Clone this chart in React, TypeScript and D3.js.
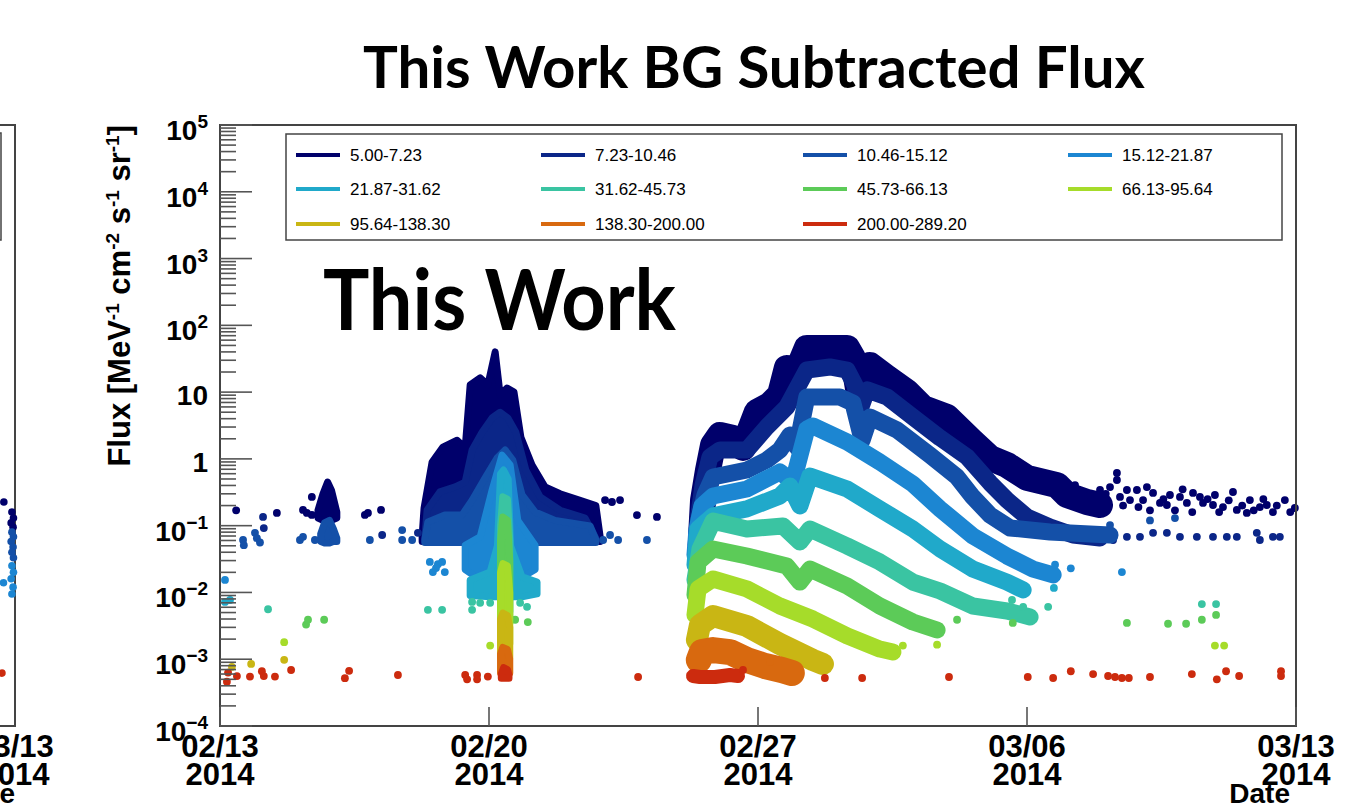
import * as d3 from "d3";

// [days after 02/13 00:00 UTC, flux]
type Pt = [number, number];
// [days, low flux, high flux] for dense clusters of points
type Span = [number, number, number];

const tickDates = ["2014-02-13", "2014-02-20", "2014-02-27", "2014-03-06", "2014-03-13"];
const yDecades = [5, 4, 3, 2, 1, 0, -1, -2, -3, -4];

const binNames = [
  "5.00-7.23", "7.23-10.46", "10.46-15.12", "15.12-21.87",
  "21.87-31.62", "31.62-45.73", "45.73-66.13", "66.13-95.64",
  "95.64-138.30", "138.30-200.00", "200.00-289.20",
];
const binColors = [
  "#00006b", "#0b2688", "#1450a8", "#1c86d2", "#20a9ca", "#3ac4a2",
  "#5ccb58", "#a6dc2a", "#c9b614", "#d8690f", "#cc2b0e",
];

// ---- 5.00-7.23
const spans1: Span[][] = [
  [[2.55, 0.13, 0.17], [2.68, 0.12, 0.3], [2.8, 0.12, 0.45], [2.9, 0.12, 0.34], [3.04, 0.13, 0.16]],
  [[5.26, 0.058, 0.07], [5.31, 0.058, 0.184], [5.52, 0.058, 0.9], [5.8, 0.058, 1.5], [6.17, 0.058, 1.9],
   [6.38, 0.058, 1.46], [6.51, 0.058, 12.8], [6.77, 0.058, 16.3], [6.97, 0.058, 12.8], [7.16, 0.058, 40],
   [7.29, 0.058, 9.1], [7.47, 0.058, 11.5], [7.65, 0.058, 10], [7.83, 0.058, 2.1], [8.12, 0.058, 0.81],
   [8.46, 0.058, 0.38], [8.85, 0.058, 0.3], [9.37, 0.058, 0.24], [9.78, 0.058, 0.2], [9.89, 0.058, 0.07]],
];
const bands1: Pt[][] = [[
  [12.52, 0.0725], [12.57, 0.242], [12.7, 0.682], [12.83, 1.61], [13.01, 2.28], [13.35, 2.06], [13.61, 1.46],
  [13.97, 5.04], [14.31, 6.41], [14.57, 9.05], [14.75, 23], [15.01, 20], [15.27, 45.8], [15.95, 45.8],
  [16.32, 45.8], [16.47, 32.4], [16.6, 11.5], [16.73, 12.3], [16.91, 25.5], [17.36, 16.3], [17.88, 10],
  [18.29, 5.78], [18.92, 4.24], [19.59, 1.79], [20.04, 1.03], [20.48, 0.81], [21.0, 0.518], [21.78, 0.406],
  [22.04, 0.288], [22.56, 0.226], [22.9, 0.204],
]];
const dots1: Pt[] = [
  [0.42, 0.17], [1.48, 0.155], [2.16, 0.172], [2.26, 0.155], [2.39, 0.145], [2.39, 0.269], [3.77, 0.145],
  [3.85, 0.155], [4.19, 0.172], [5.39, 0.172], [10.02, 0.242], [10.2, 0.226], [10.41, 0.242], [10.85, 0.144],
  [11.37, 0.135], [22.25, 0.406], [22.64, 0.288], [22.9, 0.342], [23.05, 0.3], [23.16, 0.379], [23.34, 0.615],
  [23.34, 0.483], [23.42, 0.269], [23.5, 0.2], [23.6, 0.342], [23.68, 0.242], [23.86, 0.342], [23.9, 0.19],
  [24.02, 0.242], [24.12, 0.379], [24.2, 0.17], [24.28, 0.309], [24.46, 0.219], [24.55, 0.25], [24.64, 0.204],
  [24.72, 0.288], [24.85, 0.17], [24.98, 0.269], [25.05, 0.35], [25.16, 0.219], [25.3, 0.16], [25.32, 0.309],
  [25.5, 0.269], [25.58, 0.219], [25.7, 0.25], [25.84, 0.204], [25.89, 0.288], [26.0, 0.16], [26.1, 0.19],
  [26.25, 0.24], [26.36, 0.319], [26.46, 0.172], [26.6, 0.2], [26.72, 0.155], [26.8, 0.242], [26.9, 0.17],
  [27.06, 0.19], [27.15, 0.25], [27.24, 0.204], [27.4, 0.16], [27.5, 0.2], [27.71, 0.242], [27.85, 0.16],
  [27.97, 0.184],
];

// ---- 7.23-10.46
const spans2: Span[][] = [[
  [5.33, 0.058, 0.065], [5.39, 0.058, 0.172], [5.72, 0.058, 0.32], [6.12, 0.058, 0.38], [6.38, 0.058, 0.45],
  [6.56, 0.058, 1.36], [6.82, 0.058, 2.5], [7.08, 0.058, 4.1], [7.29, 0.058, 5.0], [7.49, 0.058, 4.1],
  [7.7, 0.058, 2.5], [7.96, 0.058, 0.68], [8.33, 0.058, 0.27], [8.85, 0.058, 0.17], [9.5, 0.058, 0.13],
  [9.78, 0.058, 0.065],
]];
const bands2: Pt[][] = [[
  [12.39, 0.0513], [12.44, 0.122], [12.57, 0.406], [12.75, 1.07], [13.01, 1.36], [13.71, 1.36], [14.23, 3.0],
  [14.75, 5.99], [15.27, 21.4], [15.87, 23.8], [16.32, 21.4], [16.52, 12.8], [16.65, 5.4], [16.84, 10.8],
  [17.36, 8.45], [18.03, 4.24], [18.74, 2.06], [19.44, 1.07], [20.04, 0.436], [20.48, 0.242], [21.0, 0.135],
  [21.6, 0.0955], [22.2, 0.0725], [22.9, 0.0654],
]];
const dots2: Pt[] = [
  [1.12, 0.135], [1.14, 0.092], [4.22, 0.0725], [5.15, 0.078], [23.24, 0.061], [23.6, 0.068], [23.94, 0.068],
  [24.28, 0.078], [24.64, 0.078], [24.98, 0.068], [25.42, 0.068], [25.84, 0.068], [26.2, 0.068],
  [26.46, 0.068], [26.98, 0.078], [27.06, 0.061], [27.4, 0.068], [27.58, 0.068],
];

// ---- 10.46-15.12
const spans3: Span[][] = [
  [[2.62, 0.058, 0.075], [2.72, 0.055, 0.11], [2.85, 0.055, 0.12], [2.95, 0.058, 0.09], [3.04, 0.058, 0.065]],
  [[5.33, 0.056, 0.062], [5.41, 0.056, 0.114], [5.85, 0.056, 0.145], [6.3, 0.056, 0.145], [6.56, 0.056, 0.24],
   [6.9, 0.056, 0.52], [7.21, 0.056, 1.03], [7.42, 0.056, 1.36], [7.62, 0.056, 0.96], [7.86, 0.056, 0.29],
   [8.2, 0.056, 0.16], [8.72, 0.056, 0.12], [9.63, 0.056, 0.099], [9.78, 0.056, 0.062]],
];
const bands3: Pt[][] = [[
  [12.39, 0.0432], [12.46, 0.122], [12.62, 0.288], [12.83, 0.536], [13.71, 0.682], [14.23, 0.962],
  [14.57, 1.36], [14.83, 2.28], [15.01, 1.51], [15.27, 8.45], [16.13, 8.45], [16.47, 6.87], [16.71, 1.92],
  [16.91, 4.24], [17.62, 2.71], [18.47, 1.14], [19.18, 0.536], [19.59, 0.269], [20.04, 0.144],
  [20.56, 0.0923], [21.6, 0.0804], [22.64, 0.075], [23.16, 0.0725],
]];
const dots3: Pt[] = [
  [0.6, 0.061], [0.62, 0.051], [0.91, 0.078], [0.96, 0.065], [1.04, 0.056], [2.08, 0.061], [2.16, 0.068],
  [2.47, 0.061], [3.9, 0.061], [4.74, 0.086], [4.74, 0.061], [5.0, 0.061], [9.97, 0.061], [10.15, 0.0725],
  [10.36, 0.061], [11.11, 0.061], [23.16, 0.102], [24.2, 0.12], [24.85, 0.13],
];

// ---- 15.12-21.87
const spans4: Span[][] = [[
  [6.38, 0.022, 0.051], [6.77, 0.0155, 0.068], [7.08, 0.013, 0.34], [7.34, 0.013, 1.14], [7.55, 0.013, 0.81],
  [7.75, 0.0155, 0.12], [8.2, 0.022, 0.051],
]];
const bands4: Pt[][] = [[
  [12.36, 0.0364], [12.41, 0.0861], [12.54, 0.197], [12.83, 0.278], [13.71, 0.354], [14.57, 0.637],
  [14.91, 0.451], [15.27, 2.8], [15.43, 3.11], [16.32, 1.79], [17.17, 0.898], [18.03, 0.421], [18.74, 0.178],
  [19.59, 0.07], [20.48, 0.0351], [21.16, 0.0224], [21.68, 0.0183],
]];
const dots4: Pt[] = [
  [0.13, 0.0154], [5.46, 0.0286], [5.54, 0.0202], [5.62, 0.0232], [5.67, 0.0265], [5.78, 0.0286],
  [5.85, 0.0202], [21.73, 0.026], [22.14, 0.023], [23.47, 0.0202],
];

// ---- 21.87-31.62
const spans5: Span[][] = [[
  [6.51, 0.009, 0.0154], [7.03, 0.0086, 0.0202], [7.22, 0.0086, 0.05], [7.3, 0.0086, 0.6], [7.38, 0.0086, 0.68],
  [7.5, 0.0086, 0.5], [7.56, 0.0086, 0.05], [7.86, 0.0086, 0.0171], [8.25, 0.0095, 0.0143],
]];
const bands5: Pt[][] = [[
  [12.36, 0.0258], [12.44, 0.0892], [12.83, 0.14], [13.71, 0.178], [14.57, 0.278], [14.83, 0.393],
  [15.09, 0.197], [15.35, 0.554], [16.32, 0.354], [17.17, 0.178], [18.03, 0.0892], [18.74, 0.0447],
  [19.59, 0.0224], [20.48, 0.0143], [20.9, 0.0109],
]];
const dots5: Pt[] = [[0.13, 0.0072], [0.26, 0.0077], [21.7, 0.0117]];

// ---- 31.62-45.73
const spans6: Span[][] = [[[7.3, 0.0052, 0.1], [7.36, 0.0052, 0.27], [7.48, 0.0052, 0.25], [7.54, 0.0052, 0.06]]];
const bands6: Pt[][] = [[
  [12.36, 0.0154], [12.49, 0.0447], [12.83, 0.117], [13.71, 0.0892], [14.65, 0.0989], [15.09, 0.0569],
  [15.35, 0.0892], [16.32, 0.0496], [17.17, 0.0286], [18.03, 0.0143], [18.74, 0.0105], [19.59, 0.00627],
  [20.48, 0.00528], [21.08, 0.00429],
]];
const dots6: Pt[] = [
  [1.25, 0.0056], [5.41, 0.0055], [5.78, 0.0055], [6.56, 0.0072], [6.56, 0.0055], [6.77, 0.007],
  [7.03, 0.007], [7.81, 0.007], [7.99, 0.0061], [20.61, 0.0077], [20.9, 0.0061], [21.55, 0.0061],
  [25.55, 0.0067], [25.92, 0.0067],
];

// ---- 45.73-66.13
const spans7: Span[][] = [[[7.3, 0.0035, 0.06], [7.36, 0.0035, 0.135], [7.48, 0.0035, 0.12], [7.54, 0.0035, 0.03]]];
const bands7: Pt[][] = [[
  [12.36, 0.00916], [12.44, 0.0286], [12.83, 0.0447], [13.71, 0.0351], [14.75, 0.0249], [15.09, 0.0143],
  [15.35, 0.0224], [16.32, 0.0125], [17.17, 0.00627], [18.03, 0.00361], [18.66, 0.00274],
]];
const dots7: Pt[] = [
  [2.24, 0.0033], [2.29, 0.0039], [2.71, 0.0039], [7.68, 0.0039], [8.01, 0.0036], [19.18, 0.0039],
  [20.63, 0.0035], [23.6, 0.0035], [24.67, 0.0034], [25.14, 0.0034], [25.55, 0.0039], [25.92, 0.0046],
];

// ---- 66.13-95.64
const spans8: Span[][] = [[[7.3, 0.0017, 0.02], [7.36, 0.0017, 0.027], [7.48, 0.0017, 0.025], [7.54, 0.0017, 0.01]]];
const bands8: Pt[][] = [[
  [12.36, 0.0046], [12.44, 0.0113], [12.83, 0.0159], [13.71, 0.0113], [14.57, 0.00627], [15.43, 0.004],
  [16.32, 0.00223], [17.17, 0.00142], [17.51, 0.00128],
]];
const dots8: Pt[] = [[1.67, 0.0018], [7.03, 0.0016], [17.77, 0.0016], [18.66, 0.00165], [25.89, 0.0016], [26.13, 0.0016]];

// ---- 95.64-138.30
const spans9: Span[][] = [[[7.3, 0.00104, 0.004], [7.36, 0.00104, 0.0049], [7.48, 0.00104, 0.0045], [7.54, 0.00104, 0.003]]];
const bands9: Pt[][] = [[
  [12.41, 0.00194], [12.49, 0.00326], [12.83, 0.00444], [13.71, 0.00314], [14.57, 0.00169],
  [15.43, 0.000974], [15.69, 0.000848],
]];
const dots9: Pt[] = [[0.31, 0.00077], [0.81, 0.00085], [1.67, 0.00098]];

// ---- 138.30-200.00
const spans10: Span[][] = [[[7.3, 0.00062, 0.0012], [7.36, 0.00062, 0.0015], [7.48, 0.00062, 0.0014], [7.54, 0.00062, 0.001]]];
const bands10: Pt[][] = [[
  [12.46, 0.000974], [12.54, 0.00128], [12.83, 0.00137], [13.27, 0.00128], [13.71, 0.000974],
  [14.18, 0.000792], [14.62, 0.00069], [14.88, 0.000622],
]];
const dots10: Pt[] = [[14.31, 0.00091]];

// ---- 200.00-289.20
const spans11: Span[][] = [[[7.32, 0.00052, 0.0006], [7.38, 0.00052, 0.00075], [7.48, 0.00052, 0.0007], [7.52, 0.00052, 0.00058]]];
const bands11: Pt[][] = [[[12.31, 0.000561], [12.49, 0.000542], [12.88, 0.000542], [13.27, 0.00058], [13.48, 0.000561]]];
const dots11: Pt[] = [
  [0.21, 0.00063], [0.18, 0.00046], [0.44, 0.00056], [0.78, 0.00055], [1.09, 0.00066], [1.14, 0.00056],
  [1.43, 0.00055], [1.85, 0.00069], [3.25, 0.00052], [3.36, 0.00067], [4.63, 0.00058], [6.38, 0.00058],
  [6.43, 0.0005], [6.69, 0.00058], [6.69, 0.0005], [6.97, 0.00055], [10.88, 0.000542], [13.61, 0.00069],
  [15.74, 0.000523], [16.71, 0.000523], [18.97, 0.000542], [21.02, 0.000542], [21.68, 0.000523],
  [22.14, 0.00066], [22.72, 0.0006], [23.11, 0.000561], [23.29, 0.000542], [23.47, 0.000523],
  [23.65, 0.000523], [24.2, 0.000542], [25.29, 0.0006], [25.94, 0.0005], [26.18, 0.00066],
  [26.52, 0.000561], [27.61, 0.00066], [27.61, 0.000561],
];

// right end of the neighbouring panel (cut off at the left border)
const leftNavy: Pt[] = [[27.71, 0.226], [27.92, 0.16], [27.96, 0.13], [27.9, 0.11], [27.95, 0.095]];
const leftBlue: Pt[] = [[27.92, 0.08], [27.96, 0.068], [27.9, 0.058], [27.95, 0.048], [27.92, 0.04], [27.96, 0.033]];
const leftLight: Pt[] = [[27.7, 0.014], [27.92, 0.025], [27.96, 0.02], [27.9, 0.016], [27.95, 0.012], [27.92, 0.0095]];
const leftRed: Pt[] = [[27.66, 0.00062]];

const spanSets = [spans1, spans2, spans3, spans4, spans5, spans6, spans7, spans8, spans9, spans10, spans11];
const bandSets = [bands1, bands2, bands3, bands4, bands5, bands6, bands7, bands8, bands9, bands10, bands11];
const dotSets = [dots1, dots2, dots3, dots4, dots5, dots6, dots7, dots8, dots9, dots10, dots11];

const bandWidths = [26, 17, 17, 17, 17, 17, 17, 17, 22, 26, 14];
const AX = "Liberation Sans, Arial, Helvetica, sans-serif";
const sup = (s: string) => s.replace("-", "\u2212");

export default function App() {
  const t0 = new Date(tickDates[0]).getTime();
  const day = (d: number) => new Date(t0 + d * 86400000);
  const x = d3.scaleUtc()
    .domain([new Date(tickDates[0]), new Date(tickDates[tickDates.length - 1])])
    .range([220, 1296]);
  const xLeft = d3.scaleUtc().domain(x.domain()).range([15 - 1076, 15]);
  const y = d3.scaleLog().domain([1e-4, 1e5]).range([726, 125]);

  const area = d3.area<Span>().x(d => x(day(d[0]))).y0(d => y(d[1])).y1(d => y(d[2]));
  const line = d3.line<Pt>().x(d => x(day(d[0]))).y(d => y(d[1]));

  const minor: number[] = [];
  yDecades.slice(1).forEach(k => {
    for (let m = 2; m <= 9; m++) minor.push(m * Math.pow(10, k));
  });
  const fmtMD = d3.utcFormat("%m/%d");
  const fmtY = d3.utcFormat("%Y");

  const leftSets: [Pt[], string][] = [
    [leftNavy, binColors[0]], [leftBlue, binColors[2]], [leftLight, binColors[3]], [leftRed, binColors[10]],
  ];

  return (
    <svg width={1353} height={805} style={{ position: "absolute", left: 0, top: 0, background: "#fff" }}>
      <rect width={1353} height={805} fill="#fff" />

      {/* neighbouring panel remnants */}
      <path d="M0,125H15V726H0" fill="none" stroke="#444" strokeWidth={2} />
      <path d="M0,133H1V240H0" fill="none" stroke="#444" strokeWidth={1.5} />
      {leftSets.map(([pts, c], i) =>
        pts.map((p, j) => <circle key={`l${i}-${j}`} cx={xLeft(day(p[0]))} cy={y(p[1])} r={3.8} fill={c} />)
      )}
      <g fontFamily={AX} fontWeight="bold" fontSize={31} textAnchor="middle">
        <text x={15} y={757}>03/13</text>
        <text x={15} y={785}>2014</text>
      </g>
      <text x={15} y={803} fontFamily={AX} fontWeight="bold" fontSize={28} textAnchor="end">Date</text>

      {/* title */}
      <text x={754} y={88} textAnchor="middle" fontFamily="Lato, Open Sans, sans-serif" fontWeight={700}
        fontSize={58} textLength={782} lengthAdjust="spacingAndGlyphs">This Work BG Subtracted Flux</text>

      {/* data */}
      {binNames.map((name, i) => (
        <g key={name}>
          {spanSets[i].map((s, j) => (
            <path key={`a${j}`} d={area(s) ?? ""} fill={binColors[i]} stroke={binColors[i]}
              strokeWidth={7} strokeLinejoin="round" />
          ))}
          {bandSets[i].map((b, j) => (
            <path key={`b${j}`} d={line(b) ?? ""} fill="none" stroke={binColors[i]}
              strokeWidth={bandWidths[i]} strokeLinejoin="round" strokeLinecap="round" />
          ))}
          {dotSets[i].map((p, j) => (
            <circle key={`d${j}`} cx={x(day(p[0]))} cy={y(p[1])} r={3.9} fill={binColors[i]} />
          ))}
        </g>
      ))}

      {/* frame and axes */}
      <rect x={220} y={125} width={1076} height={601} fill="none" stroke="#444" strokeWidth={2} />
      {yDecades.map(k => (
        <line key={`M${k}`} x1={220} x2={252} y1={y(Math.pow(10, k))} y2={y(Math.pow(10, k))} stroke="#555" strokeWidth={1.6} />
      ))}
      {minor.map(v => (
        <line key={`m${v}`} x1={220} x2={236} y1={y(v)} y2={y(v)} stroke="#555" strokeWidth={1.6} />
      ))}
      {tickDates.map(t => (
        <line key={`xt${t}`} x1={x(new Date(t))} x2={x(new Date(t))} y1={726} y2={707} stroke="#555" strokeWidth={1.6} />
      ))}

      <g fontFamily={AX} fontWeight="bold" fill="#000">
        {yDecades.map(k => {
          const yy = y(Math.pow(10, k));
          if (k === 1 || k === 0)
            return <text key={`yl${k}`} x={208} y={yy + 13} textAnchor="end" fontSize={28}>{k === 1 ? "10" : "1"}</text>;
          return (
            <text key={`yl${k}`} x={208} y={yy + 15} textAnchor="end" fontSize={28}>
              10<tspan dy={-12} fontSize={19}>{sup(String(k))}</tspan>
            </text>
          );
        })}
        {tickDates.map(t => (
          <g key={`xl${t}`} textAnchor="middle" fontSize={31}>
            <text x={x(new Date(t))} y={757}>{fmtMD(new Date(t))}</text>
            <text x={x(new Date(t))} y={785}>{fmtY(new Date(t))}</text>
          </g>
        ))}
        <text x={1290} y={803} textAnchor="end" fontSize={28}>Date</text>
        <text transform="translate(130,125) rotate(-90)" textAnchor="end" fontSize={31}>
          Flux [MeV<tspan dy={-11} fontSize={19}>-1</tspan>
          <tspan dy={11}> cm</tspan><tspan dy={-11} fontSize={19}>-2</tspan>
          <tspan dy={11}> s</tspan><tspan dy={-11} fontSize={19}>-1</tspan>
          <tspan dy={11}> sr</tspan><tspan dy={-11} fontSize={19}>-1</tspan>
          <tspan dy={11}>]</tspan>
        </text>
      </g>

      {/* legend */}
      <rect x={286} y={134} width={996} height={106} fill="#fff" stroke="#444" strokeWidth={1.5} />
      {binNames.map((name, i) => {
        const cx = [296, 541, 803, 1068][i % 4];
        const cy = [155, 189, 224][Math.floor(i / 4)];
        return (
          <g key={`lg${name}`}>
            <line x1={cx} x2={cx + 44} y1={cy} y2={cy} stroke={binColors[i]} strokeWidth={4} />
            <text x={cx + 54} y={cy + 6} fontFamily={AX} fontSize={17}>{name}</text>
          </g>
        );
      })}

      <text x={323} y={330} fontFamily="Lato, Open Sans, sans-serif" fontWeight={700} fontSize={84}
        textLength={353} lengthAdjust="spacingAndGlyphs">This Work</text>
    </svg>
  );
}
